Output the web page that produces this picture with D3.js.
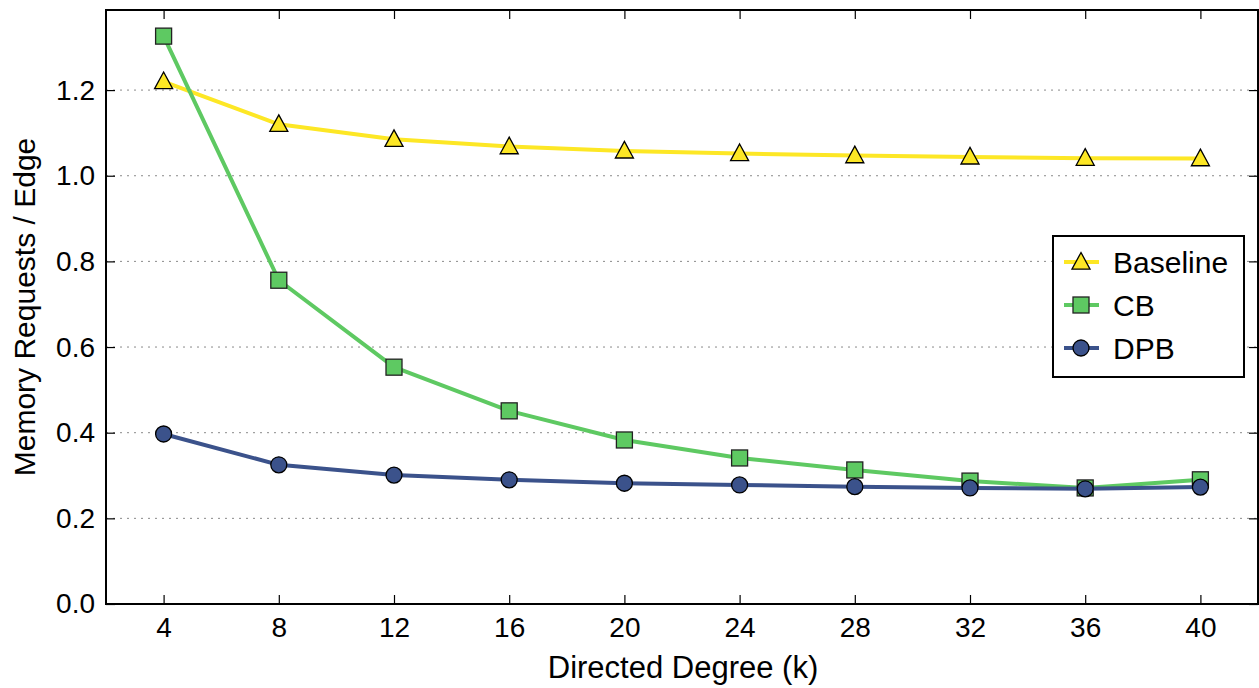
<!DOCTYPE html>
<html><head><meta charset="utf-8">
<script src="https://cdn.jsdelivr.net/npm/d3@7"></script>
<style>body{margin:0;background:#fff;} svg{display:block;font-family:"Liberation Sans",Arial,Helvetica,sans-serif;}</style>
</head><body>
<svg id="chart" width="1259" height="688"></svg>
<script>
const degrees = [4, 8, 12, 16, 20, 24, 28, 32, 36, 40];
const baseline = [1.220, 1.120, 1.085, 1.068, 1.058, 1.052, 1.047, 1.044, 1.041, 1.040];
const cb = [1.326, 0.756, 0.553, 0.451, 0.383, 0.341, 0.313, 0.287, 0.271, 0.290];
const dpb = [0.397, 0.325, 0.301, 0.290, 0.282, 0.278, 0.274, 0.271, 0.269, 0.273];
const yTicks = [0.0, 0.2, 0.4, 0.6, 0.8, 1.0, 1.2];
const seriesNames = ["Baseline", "CB", "DPB"];

const colors = {Baseline: "#fde725", CB: "#5ec962", DPB: "#3b528b"};
const markers = {Baseline: "triangle", CB: "square", DPB: "circle"};
const series = [
  {name: "Baseline", values: baseline},
  {name: "CB", values: cb},
  {name: "DPB", values: dpb}
];

const svg = d3.select("#chart");
const L = 106, R = 1258, T = 10, B = 604;
const x = d3.scaleLinear().domain([2, 42]).range([L, R]);
const y = d3.scaleLinear().domain([0, 1.387]).range([B, T]);

// grid
svg.append("g").selectAll("line").data(yTicks.filter(d => d > 0)).join("line")
  .attr("x1", L).attr("x2", R).attr("y1", d => y(d)).attr("y2", d => y(d))
  .attr("stroke", "#8a8a8a").attr("stroke-width", 1).attr("stroke-dasharray", "2,5");

// axes with inward ticks
const fmt = d3.format(".1f");
const gB = svg.append("g").attr("transform", `translate(0,${B})`)
  .call(d3.axisBottom(x).tickValues(degrees).tickSize(-9).tickPadding(13));
const gT = svg.append("g").attr("transform", `translate(0,${T})`)
  .call(d3.axisTop(x).tickValues(degrees).tickSize(-9).tickFormat(""));
const gL = svg.append("g").attr("transform", `translate(${L},0)`)
  .call(d3.axisLeft(y).tickValues(yTicks).tickFormat(fmt).tickSize(-9).tickPadding(11));
const gR = svg.append("g").attr("transform", `translate(${R},0)`)
  .call(d3.axisRight(y).tickValues(yTicks).tickSize(-9).tickFormat(""));
[gB, gT, gL, gR].forEach(g => {
  g.select(".domain").remove();
  g.selectAll(".tick line").attr("stroke", "#000").attr("stroke-width", 1.2);
  g.selectAll(".tick text").attr("fill", "#000").style("font-size", "28px")
    .style("font-family", '"Liberation Sans",Arial,sans-serif');
});
gB.selectAll(".tick text").attr("dy", "0.71em");

// lines and markers
const line = d3.line().x((d, i) => x(degrees[i])).y(d => y(d));

function drawMarker(g, type, cx, cy, color) {
  if (type === "triangle") {
    const s = 9.5;
    g.append("path").attr("d", `M${cx},${cy - s} L${cx + s * 0.95},${cy + s * 0.75} L${cx - s * 0.95},${cy + s * 0.75} Z`)
      .attr("fill", color).attr("stroke", "#000").attr("stroke-width", 1.3);
  } else if (type === "square") {
    g.append("rect").attr("x", cx - 8).attr("y", cy - 8).attr("width", 16).attr("height", 16)
      .attr("fill", color).attr("stroke", "#222").attr("stroke-width", 1.3);
  } else {
    g.append("circle").attr("cx", cx).attr("cy", cy).attr("r", 8)
      .attr("fill", color).attr("stroke", "#000").attr("stroke-width", 1.3);
  }
}

series.forEach(s => {
  const g = svg.append("g");
  g.append("path").datum(s.values).attr("d", line).attr("fill", "none")
    .attr("stroke", colors[s.name]).attr("stroke-width", 4).attr("stroke-linejoin", "round");
  s.values.forEach((v, i) => drawMarker(g, markers[s.name], x(degrees[i]), y(v), colors[s.name]));
});

// frame
svg.append("rect").attr("x", L).attr("y", T).attr("width", R - L).attr("height", B - T)
  .attr("fill", "none").attr("stroke", "#000").attr("stroke-width", 2);

// axis labels
svg.append("text").attr("x", 683).attr("y", 678).attr("text-anchor", "middle")
  .style("font-size", "31px").text("Directed Degree (k)");
svg.append("text").attr("transform", `translate(35,${(T + B) / 2}) rotate(-90)`).attr("text-anchor", "middle")
  .style("font-size", "30px").text("Memory Requests / Edge");

// legend
const lg = svg.append("g");
lg.append("rect").attr("x", 1053).attr("y", 236).attr("width", 191).attr("height", 141)
  .attr("fill", "#fff").attr("stroke", "#000").attr("stroke-width", 2);
seriesNames.forEach((n, i) => {
  const cy = 262 + i * 43;
  lg.append("line").attr("x1", 1064).attr("x2", 1099).attr("y1", cy).attr("y2", cy)
    .attr("stroke", colors[n]).attr("stroke-width", 4);
  drawMarker(lg, markers[n], 1081, cy, colors[n]);
  lg.append("text").attr("x", 1113).attr("y", cy).attr("dy", "0.36em")
    .style("font-size", "30px").text(n);
});
</script>
</body></html>
